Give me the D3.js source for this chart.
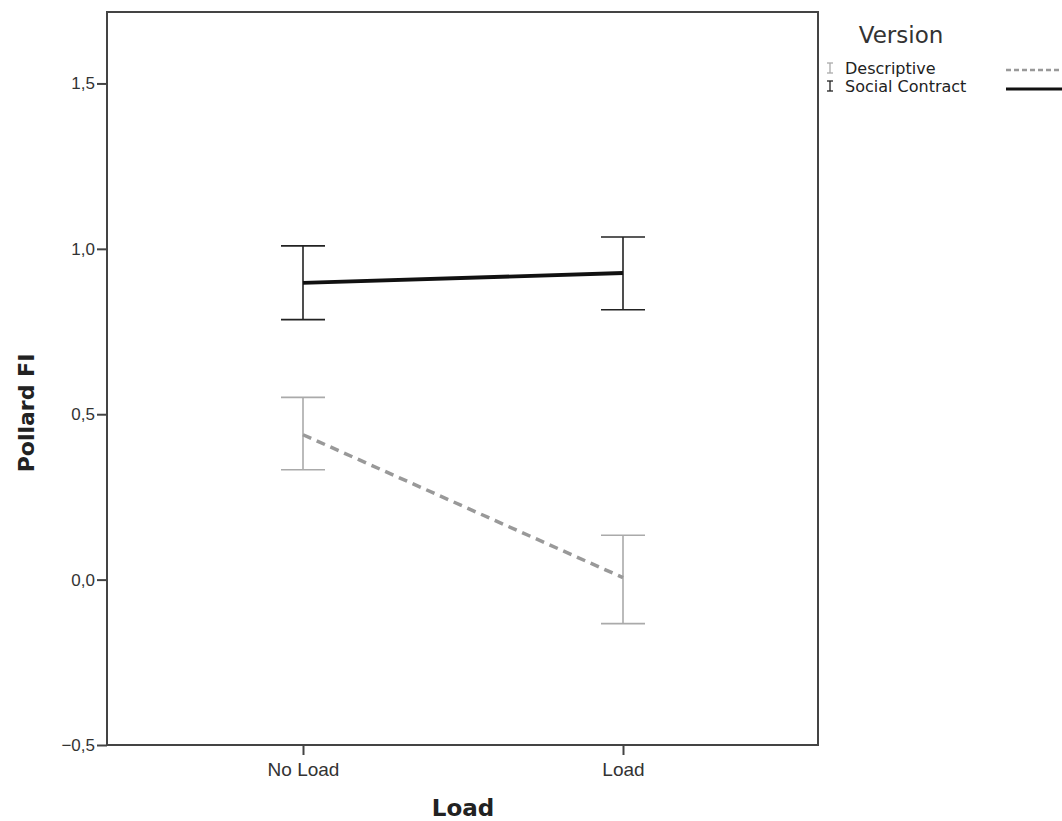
<!DOCTYPE html>
<html>
<head>
<meta charset="utf-8">
<script src="https://cdn.jsdelivr.net/npm/d3@7"></script>
<style>
  body { margin: 0; background: #fff; }
  svg { font-family: "DejaVu Sans", sans-serif; }
</style>
</head>
<body>
<div class="chart"></div>
<script>
const categories = ["No Load", "Load"];
const versions = ["Descriptive", "Social Contract"];
const yTicks = [-0.5, 0.0, 0.5, 1.0, 1.5];
// mean, lower, upper for each load level
const descMean = [0.438, 0.006];
const descLow = [0.332, -0.133];
const descHigh = [0.551, 0.134];
const socialMean = [0.897, 0.927];
const socialLow = [0.786, 0.816];
const socialHigh = [1.009, 1.036];

const w = 1062, h = 821;
const plotLeft = 107, plotRight = 818, plotTop = 12, plotBottom = 745;

const series = [
  { name: versions[0], mean: descMean, low: descLow, high: descHigh, color: "#999", bar: "#aaa", width: 3.5, dash: "9,6" },
  { name: versions[1], mean: socialMean, low: socialLow, high: socialHigh, color: "#111", bar: "#222", width: 3.8, dash: null }
];

const svg = d3.select(".chart").append("svg")
  .attr("width", w)
  .attr("height", h);

const x = d3.scalePoint()
  .domain(categories)
  .range([303, 623]);

const y = d3.scaleLinear()
  .domain([-0.5, 1.716])
  .range([plotBottom, plotTop]);

const fmt = d => d3.format(".1f")(d).replace(".", ",").replace("-", "\u2212");

// frame
svg.append("rect")
  .attr("x", plotLeft).attr("y", plotTop)
  .attr("width", plotRight - plotLeft).attr("height", plotBottom - plotTop)
  .attr("fill", "none").attr("stroke", "#444").attr("stroke-width", 2);

const yAxis = svg.append("g")
  .attr("transform", `translate(${plotLeft},0)`)
  .call(d3.axisLeft(y).tickValues(yTicks).tickFormat(fmt).tickSize(10).tickPadding(2));
yAxis.select(".domain").remove();
yAxis.selectAll(".tick line").attr("stroke", "#444").attr("stroke-width", 2);
yAxis.selectAll(".tick text").style("font-size", "17px").attr("fill", "#333");

const xAxis = svg.append("g")
  .attr("transform", `translate(0,${plotBottom})`)
  .call(d3.axisBottom(x).tickSize(10).tickPadding(8));
xAxis.select(".domain").remove();
xAxis.selectAll(".tick line").attr("stroke", "#444").attr("stroke-width", 2);
xAxis.selectAll(".tick text").style("font-size", "19px").attr("fill", "#333");

// error bars
const cap = 22;
series.forEach(s => {
  const g = svg.append("g");
  categories.forEach((c, i) => {
    const cx = x(c);
    g.append("line")
      .attr("x1", cx).attr("x2", cx)
      .attr("y1", y(s.low[i])).attr("y2", y(s.high[i]))
      .attr("stroke", s.bar).attr("stroke-width", 1.6);
    [s.low[i], s.high[i]].forEach(v => {
      g.append("line")
        .attr("x1", cx - cap).attr("x2", cx + cap)
        .attr("y1", y(v)).attr("y2", y(v))
        .attr("stroke", s.bar).attr("stroke-width", 1.6);
    });
  });
  const line = d3.line()
    .x((d, i) => x(categories[i]))
    .y(d => y(d));
  g.append("path")
    .datum(s.mean)
    .attr("d", line)
    .attr("fill", "none")
    .attr("stroke", s.color)
    .attr("stroke-width", s.width)
    .attr("stroke-dasharray", s.dash);
});

// axis titles
svg.append("text")
  .attr("x", 463).attr("y", 816)
  .attr("text-anchor", "middle")
  .style("font-size", "23px").attr("font-weight", "bold").attr("fill", "#222")
  .text("Load");

svg.append("text")
  .attr("transform", "translate(34,413) rotate(-90)")
  .attr("text-anchor", "middle")
  .style("font-size", "22px").attr("font-weight", "bold").attr("fill", "#222")
  .text("Pollard FI");

// legend
const legend = svg.append("g");
legend.append("text")
  .attr("x", 901).attr("y", 43)
  .attr("text-anchor", "middle")
  .style("font-size", "23px").attr("fill", "#333")
  .text("Version");

series.forEach((s, i) => {
  const ly = 68 + i * 18;
  const mx = 830;
  legend.append("line").attr("x1", mx).attr("x2", mx).attr("y1", ly - 5).attr("y2", ly + 5)
    .attr("stroke", s.bar).attr("stroke-width", 1.3);
  [ly - 5, ly + 5].forEach(yy => {
    legend.append("line").attr("x1", mx - 3).attr("x2", mx + 3).attr("y1", yy).attr("y2", yy)
      .attr("stroke", s.bar).attr("stroke-width", 1.3);
  });
  legend.append("text")
    .attr("x", 845).attr("y", ly + 5.5)
    .style("font-size", "16px").attr("fill", "#222")
    .text(s.name);
  legend.append("line")
    .attr("x1", 1006).attr("x2", 1062)
    .attr("y1", ly + 2 + i).attr("y2", ly + 2 + i)
    .attr("stroke", s.color)
    .attr("stroke-width", i === 0 ? 2.5 : 3)
    .attr("stroke-dasharray", s.dash ? "5,3" : null);
});
</script>
</body>
</html>
